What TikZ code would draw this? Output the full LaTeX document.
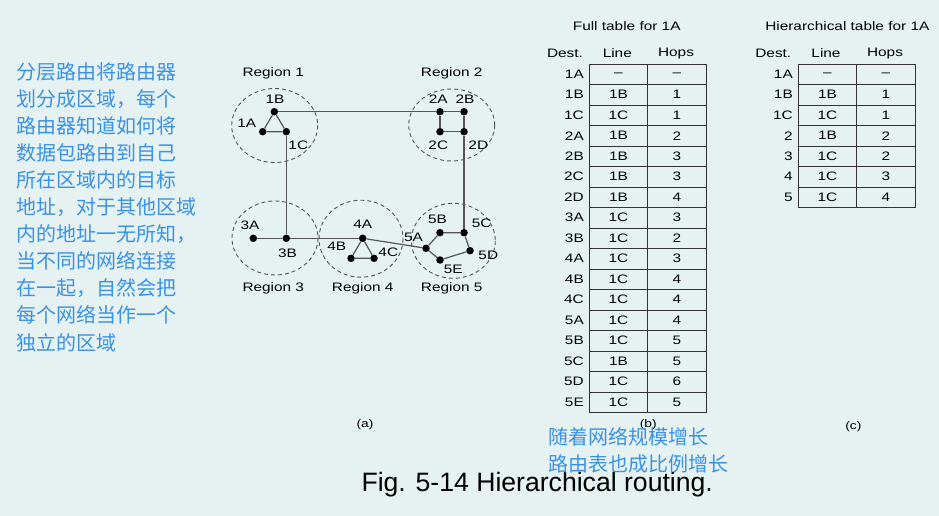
\documentclass[tikz,border=0pt]{standalone}
\usepackage{fontspec}
\setmainfont{Liberation Sans}
\newfontfamily\cjk{Noto Sans CJK SC}
\usepackage{xcolor}
\definecolor{paper}{HTML}{E6F2F2}
\definecolor{note}{HTML}{3A92E4}
\definecolor{wire}{HTML}{555555}

\begin{document}
\begin{tikzpicture}[x=1pt, y=-1pt,
	router/.style={circle, fill=black, inner sep=0pt, minimum size=7.5pt},
	region/.style={draw=wire, dash pattern=on 4pt off 3pt, line width=0.9pt},
	link/.style={draw=wire, line width=1.2pt},
	tabline/.style={draw=black!80, line width=0.9pt},
	lbl/.style={font=\fontsize{12.3}{14}\selectfont, xscale=1.25, inner sep=0pt},
	cn/.style={font=\cjk\fontsize{20}{27.1}\selectfont, text=note, align=left, inner sep=0pt, anchor=north west}]
	\fill[paper] (0,0) rectangle (939,516);
	\useasboundingbox (0,0) rectangle (939,516);

	% regions
	\coordinate (c1) at (274.7,125.5);
	\coordinate (c2) at (451.7,125);
	\coordinate (c3) at (275,238);
	\coordinate (c4) at (361,238.7);
	\coordinate (c5) at (453.3,240.8);
	\draw[region] (c1) ellipse (43 and 37);
	\draw[region] (c2) ellipse (43 and 36);
	\draw[region] (c3) ellipse (43 and 37);
	\draw[region] (c4) ellipse (42 and 38.5);
	\draw[region] (c5) ellipse (42 and 37.5);

	\node[lbl] (g1) at (273.3,73.3) {Region 1};
	\node[lbl] (g2) at (451.7,73.3) {Region 2};
	\node[lbl] (g3) at (273.3,288.3) {Region 3};
	\node[lbl] (g4) at (362.7,288.3) {Region 4};
	\node[lbl] (g5) at (451.7,288.3) {Region 5};

	% routers
	\node[router] (n1A) at (262.7,131.7) {};
	\node[router] (n1B) at (274.3,111.7) {};
	\node[router] (n1C) at (286.3,131.7) {};
	\node[router] (n2A) at (440,111.7) {};
	\node[router] (n2B) at (464,111.7) {};
	\node[router] (n2C) at (440,131.7) {};
	\node[router] (n2D) at (464,131.7) {};
	\node[router] (n3A) at (253.3,238.3) {};
	\node[router] (n3B) at (286.3,238.3) {};
	\node[router] (n4A) at (362.7,238.3) {};
	\node[router] (n4B) at (351,258.3) {};
	\node[router] (n4C) at (374,258.3) {};
	\node[router] (n5A) at (426,248.3) {};
	\node[router] (n5B) at (440,232.7) {};
	\node[router] (n5C) at (464,232.7) {};
	\node[router] (n5D) at (470,250.7) {};
	\node[router] (n5E) at (440,260) {};

	\node[lbl] (t1A) at (246.7,123.3) {1A};
	\node[lbl] (t1B) at (275,99) {1B};
	\node[lbl] (t1C) at (298.3,145) {1C};
	\node[lbl] (t2A) at (438.3,99.3) {2A};
	\node[lbl] (t2B) at (465,99.3) {2B};
	\node[lbl] (t2C) at (438.3,145) {2C};
	\node[lbl] (t2D) at (478.3,145) {2D};
	\node[lbl] (t3A) at (250,225) {3A};
	\node[lbl] (t3B) at (287.5,253.3) {3B};
	\node[lbl] (t4A) at (362.7,224.3) {4A};
	\node[lbl] (t4B) at (336.7,246.7) {4B};
	\node[lbl] (t4C) at (388.3,252.7) {4C};
	\node[lbl] (t5A) at (413.5,237) {5A};
	\node[lbl] (t5B) at (437.5,219) {5B};
	\node[lbl] (t5C) at (481.7,222.8) {5C};
	\node[lbl] (t5D) at (488.3,255.3) {5D};
	\node[lbl] (t5E) at (453.3,269.6) {5E};

	% lines
	\draw[link] (n1A) -- (n1B) -- (n1C) -- (n1A);
	\draw[link] (n2A) -- (n2B) -- (n2D) -- (n2C) -- (n2A);
	\draw[link] (n4A) -- (n4B) -- (n4C) -- (n4A);
	\draw[link] (n5A) -- (n5B) -- (n5C) -- (n5D) -- (n5E) -- (n5A);
	\draw[link] (n1B) -- (n2A);
	\draw[link] (n1C) -- (n3B);
	\draw[link] (n3A) -- (n3B) -- (n4A);
	\draw[link] (n4A) -- (n5A);
	\draw[link] (n2D) -- (n5C);

	% full table
	\node[lbl] (fulltitle) at (626.7,26) {Full table for 1A};
	\node[lbl] (fdest) at (565,53.3) {Dest.};
	\node[lbl] (fline) at (617.3,53.3) {Line};
	\node[lbl] (fhops) at (676,53.3) {Hops};
	\draw[tabline] (589.3,64) rectangle (706.3,412.5);
	\draw[tabline] (647.7,64) -- (647.7,412.5);
	\foreach \i in {1,...,16} \draw[tabline] (589.3,64+20.5*\i) -- (706.3,64+20.5*\i);
	\foreach \d/\l/\h [count=\i] in {1A/--/--, 1B/1B/1, 1C/1C/1, 2A/1B/2, 2B/1B/3, 2C/1B/3, 2D/1B/4, 3A/1C/3, 3B/1C/2, 4A/1C/3, 4B/1C/4, 4C/1C/4, 5A/1C/4, 5B/1C/5, 5C/1B/5, 5D/1C/6, 5E/1C/5} {
		\node[lbl, anchor=east] (fd\i) at (584,53.75+20.5*\i) {\d};
		\node[lbl] (fl\i) at (618.5,53.75+20.5*\i) {\l};
		\node[lbl] (fh\i) at (677,53.75+20.5*\i) {\h};
	}

	% hierarchical table
	\node[lbl] (hiertitle) at (847.3,26) {Hierarchical table for 1A};
	\node[lbl] (hdest) at (773.3,53.3) {Dest.};
	\node[lbl] (hline) at (826,53.3) {Line};
	\node[lbl] (hhops) at (885,53.3) {Hops};
	\draw[tabline] (798.3,64) rectangle (915,207.5);
	\draw[tabline] (856.7,64) -- (856.7,207.5);
	\foreach \i in {1,...,6} \draw[tabline] (798.3,64+20.5*\i) -- (915,64+20.5*\i);
	\foreach \d/\l/\h [count=\i] in {1A/--/--, 1B/1B/1, 1C/1C/1, 2/1B/2, 3/1C/2, 4/1C/3, 5/1C/4} {
		\node[lbl, anchor=east] (hd\i) at (793,53.75+20.5*\i) {\d};
		\node[lbl] (hl\i) at (827.5,53.75+20.5*\i) {\l};
		\node[lbl] (hh\i) at (886,53.75+20.5*\i) {\h};
	}

	\node[lbl, font=\fontsize{11}{13}\selectfont] (suba) at (365,425) {(a)};
	\node[lbl, font=\fontsize{11}{13}\selectfont] (subb) at (648.3,425) {(b)};
	\node[lbl, font=\fontsize{11}{13}\selectfont] (subc) at (853.3,426.7) {(c)};

	\node[font=\fontsize{26.6}{30}\selectfont, anchor=base, inner sep=0pt] (caption) at (537.2,491.7) {Fig. 5-14 Hierarchical routing.};

	\node[cn] (noteleft) at (16.7,62) {分层路由将路由器\\划分成区域，每个\\路由器知道如何将\\数据包路由到自己\\所在区域内的目标\\地址，对于其他区域\\内的地址一无所知，\\当不同的网络连接\\在一起，自然会把\\每个网络当作一个\\独立的区域};
	\node[cn] (notebottom) at (548.3,427) {随着网络规模增长\\路由表也成比例增长};
\end{tikzpicture}
\end{document}
